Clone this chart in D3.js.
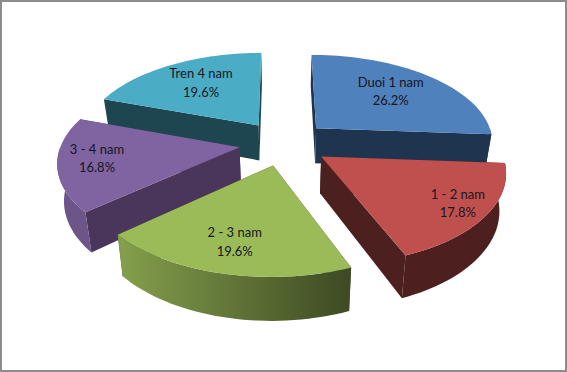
<!DOCTYPE html>
<meta charset="utf-8">
<style>
  html, body { margin: 0; padding: 0; background: #fff; }
  svg { display: block; }
  text { font-family: Lato, sans-serif; font-size: 13px; fill: #16161e; text-anchor: middle; }
</style>
<script src="https://d3js.org/d3.v7.min.js"></script>

<body>
<div id="chart"></div>

<script>
var categories = ["Duoi 1 nam", "1 - 2 nam", "2 - 3 nam", "3 - 4 nam", "Tren 4 nam"];
var shares = [26.2, 17.8, 19.6, 16.8, 19.6];

var topColors = ["#4f81bd", "#c0504d", "#9bbb59", "#8064a2", "#4bacc6"];
var wallColors = ["#1f344f", "#4d2020", "#3c4a20", "#49365a", "#1e4650"];

// how far out each label sits, the original placed them by hand
var labelRadius = [114, 150, 136, 140, 113];
// back to front
var drawOrder = [4, 0, 3, 1, 2];

var width = 567,
    height = 372,
    cx = 284,
    cy = 143,
    radius = 178,
    explode = 45,
    tilt = 0.494,
    persp = 0.00082,
    depth = 36,
    shrink = 0.97;

var svg = d3.select("#chart").append("svg")
    .attr("width", width)
    .attr("height", height);

svg.append("rect")
    .attr("x", 1).attr("y", 1)
    .attr("width", width - 2).attr("height", height - 2)
    .attr("fill", "#fff")
    .attr("stroke", "#8c8c8c")
    .attr("stroke-width", 2);

var rot = -0.2 * Math.PI / 180;
var pie = d3.pie().sort(null).startAngle(rot).endAngle(rot + 2 * Math.PI);
var arcs = pie(shares);

// ground plane -> screen, near side gets bigger
function project(d, angle, r, low) {
  var mid = (d.startAngle + d.endAngle) / 2;
  var px = r * Math.sin(angle) + explode * Math.sin(mid);
  var pz = -r * Math.cos(angle) - explode * Math.cos(mid);
  var s = 1 / (1 - persp * pz);
  var x = px * s, y = pz * tilt * s;
  if (low) return [cx + x * shrink, cy + y + depth * s];
  return [cx + x, cy + y];
}

var line = d3.line();

var defs = svg.append("defs");

// outer wall goes light on the left, dark on the right, by screen x
var shadeStops = [[120, 0.85], [345, 0.4]];

topColors.forEach(function(col, i) {
  var c = d3.rgb(col);
  var grad = defs.append("linearGradient")
      .attr("id", "wall" + i)
      .attr("gradientUnits", "userSpaceOnUse")
      .attr("x1", shadeStops[0][0]).attr("x2", shadeStops[1][0])
      .attr("y1", 0).attr("y2", 0);
  shadeStops.forEach(function(st, j) {
    grad.append("stop")
      .attr("offset", j)
      .attr("stop-color", d3.rgb(c.r * st[1], c.g * st[1], c.b * st[1]).toString());
  });
});

function steps(a0, a1) {
  var n = Math.max(1, Math.ceil((a1 - a0) / (2 * Math.PI / 180)));
  return d3.range(n + 1).map(function(i) {
    return a0 + (a1 - a0) * i / n;
  });
}

function drawSlice(i) {
  var d = arcs[i];
  var g = svg.append("g");

  // the two cut faces
  [d.startAngle, d.endAngle].forEach(function(a) {
    g.append("path")
      .attr("d", line([project(d, a, 0), project(d, a, radius),
                       project(d, a, radius, true), project(d, a, 0, true)]) + "Z")
      .attr("fill", wallColors[i]);
  });

  // outer wall, only the part that faces us
  var a0 = Math.max(d.startAngle, Math.PI / 2),
      a1 = Math.min(d.endAngle, 3 * Math.PI / 2);
  if (a1 > a0) {
    var as = steps(a0, a1);
    var upper = as.map(function(a) { return project(d, a, radius); });
    var lower = as.map(function(a) { return project(d, a, radius, true); }).reverse();
    g.append("path")
      .attr("d", line(upper.concat(lower)) + "Z")
      .attr("fill", "url(#wall" + i + ")");
  }

  var rim = steps(d.startAngle, d.endAngle).map(function(a) { return project(d, a, radius); });
  g.append("path")
    .attr("d", line([project(d, 0, 0)].concat(rim)) + "Z")
    .attr("fill", topColors[i]);
}

drawOrder.forEach(drawSlice);

arcs.forEach(function(d, i) {
  var mid = (d.startAngle + d.endAngle) / 2;
  var pos = project(d, mid, labelRadius[i]);
  var t = svg.append("text").attr("transform", "translate(" + pos + ")");
  t.append("tspan").attr("x", 0).attr("dy", "-0.55em").text(categories[i]);
  t.append("tspan").attr("x", 0).attr("dy", "1.4em").text(d3.format(".1f")(shares[i]) + "%");
});
</script>
</body>
